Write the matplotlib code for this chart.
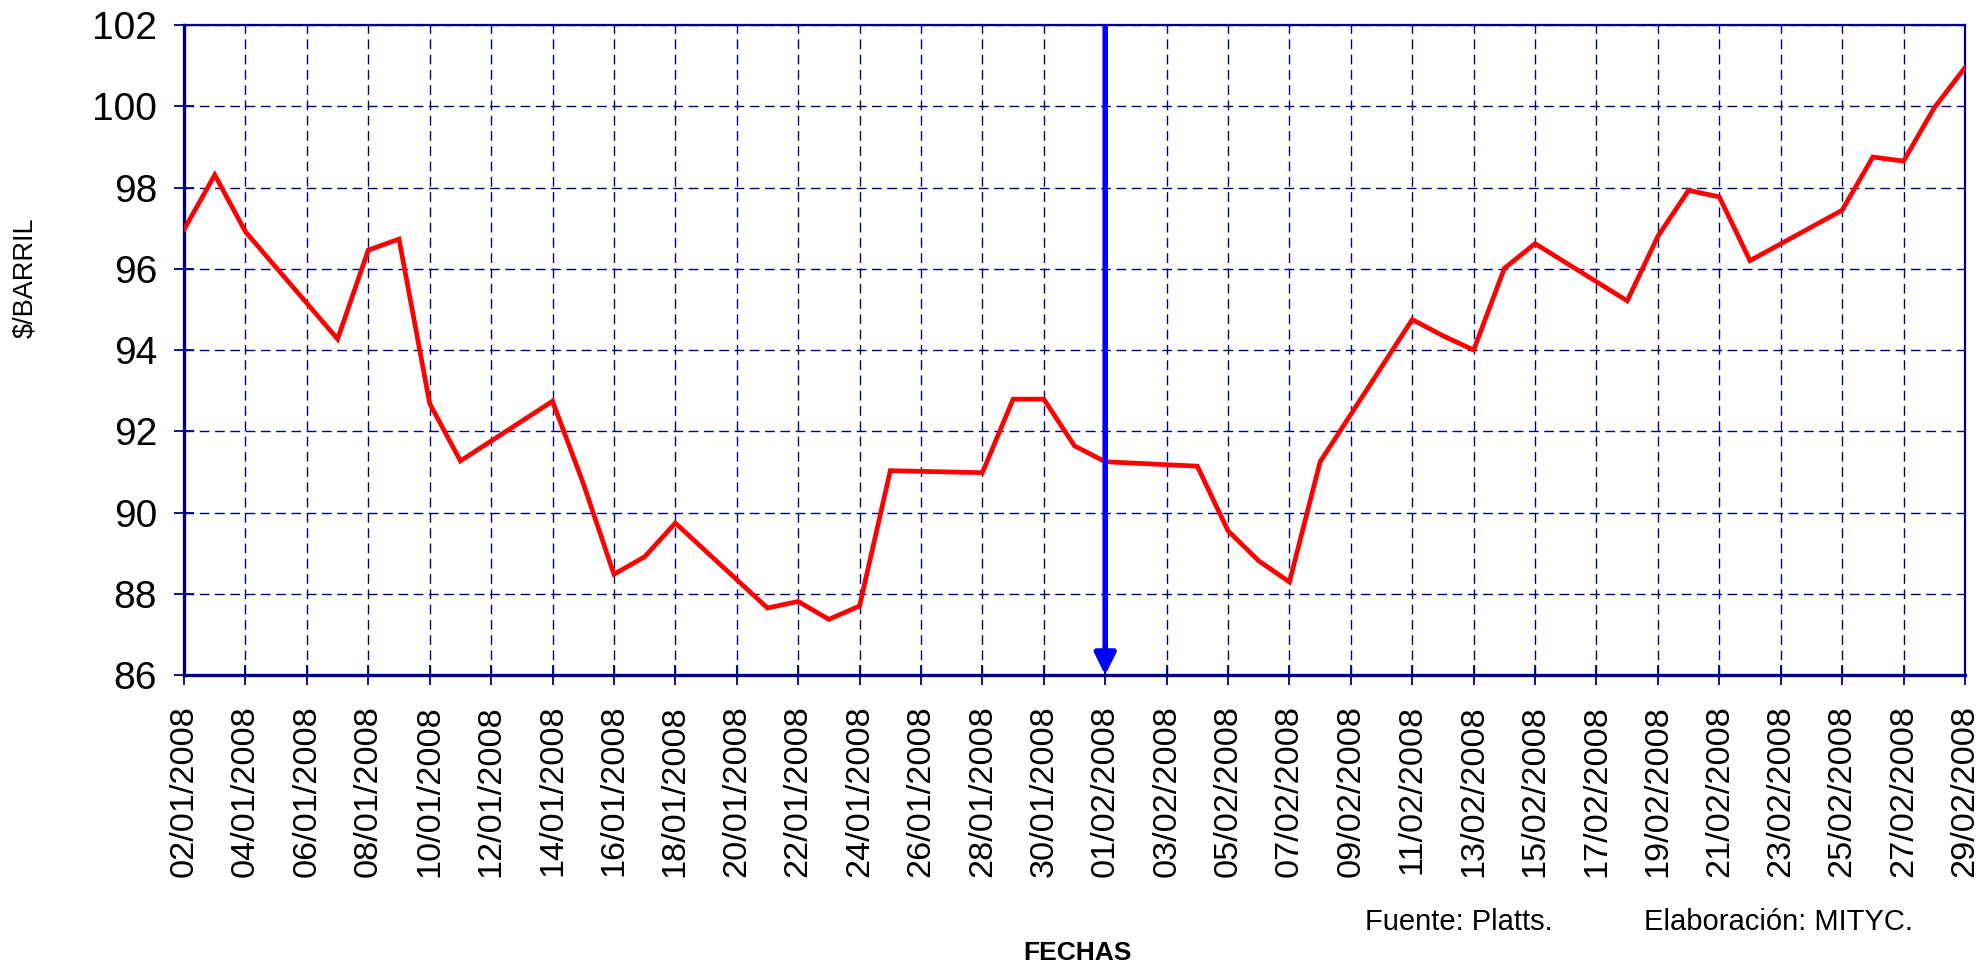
import pandas as pd
import numpy as np
import matplotlib
matplotlib.use("Agg")
import matplotlib.pyplot as plt
import matplotlib.dates as mdates

# precio diario ($/barril), enero-febrero 2008
fechas = ['02/01/2008', '03/01/2008', '04/01/2008', '07/01/2008', '08/01/2008', '09/01/2008',
          '10/01/2008', '11/01/2008', '14/01/2008', '15/01/2008', '16/01/2008', '17/01/2008',
          '18/01/2008', '21/01/2008', '22/01/2008', '23/01/2008', '24/01/2008', '25/01/2008',
          '28/01/2008', '29/01/2008', '30/01/2008', '31/01/2008',
          '01/02/2008', '04/02/2008', '05/02/2008', '06/02/2008', '07/02/2008', '08/02/2008',
          '11/02/2008', '12/02/2008', '13/02/2008', '14/02/2008', '15/02/2008', '18/02/2008',
          '19/02/2008', '20/02/2008', '21/02/2008', '22/02/2008', '25/02/2008', '26/02/2008',
          '27/02/2008', '28/02/2008', '29/02/2008']
precios = [96.97, 98.31, 96.91, 94.27, 96.46, 96.73,
           92.68, 91.27, 92.74, 90.72, 88.48, 88.91,
           89.74, 87.65, 87.81, 87.37, 87.70, 91.03,
           90.98, 92.79, 92.79, 91.64,
           91.25, 91.14, 89.55, 88.81, 88.29, 91.25,
           94.75, 94.35, 94.00, 96.01, 96.62, 95.21,
           96.80, 97.93, 97.77, 96.20, 97.44, 98.75,
           98.65, 99.96, 100.95]
fecha_flecha = '01/02/2008'  # fecha marcada con la flecha azul
y_ticks = [86, 88, 90, 92, 94, 96, 98, 100, 102]

navy = '#000080'
plt.rcParams['font.family'] = ['Liberation Sans', 'DejaVu Sans']

x = pd.to_datetime(fechas, format='%d/%m/%Y')
x_ticks = pd.date_range(x[0], x[-1], freq='2D')  # una etiqueta cada dos dias
flecha = pd.to_datetime(fecha_flecha, format='%d/%m/%Y')

fig = plt.figure(figsize=(19.88, 9.77), dpi=100)
ax = fig.add_axes([0.0926, 0.3091, 0.8958, 0.6653])

ax.plot(x, precios, color='#ff0000', lw=3.4, solid_joinstyle='miter', zorder=3)

ax.set_xlim(x[0], x[-1])
ax.set_ylim(y_ticks[0], y_ticks[-1])
ax.set_yticks(y_ticks)
ax.set_xticks(x_ticks)
ax.xaxis.set_major_formatter(mdates.DateFormatter('%d/%m/%Y'))
plt.setp(ax.get_xticklabels(), rotation=90)

ax.grid(True, color=navy, lw=1.0, linestyle=(0, (7, 4)))
ax.tick_params(axis='both', direction='inout', length=15, width=1.3, color=navy)
ax.tick_params(axis='y', labelsize=28, pad=12)
ax.tick_params(axis='x', labelsize=24.7, pad=14)

for side in ['top', 'right']:
    ax.spines[side].set_color(navy)
    ax.spines[side].set_linewidth(1.6)
for side in ['bottom', 'left']:
    ax.spines[side].set_color(navy)
    ax.spines[side].set_linewidth(2.4)

# flecha vertical
ax.annotate('', xy=(flecha, y_ticks[0]), xytext=(flecha, y_ticks[-1] - 0.05),
            arrowprops=dict(arrowstyle='-|>', color='#0000ff', lw=4,
                            mutation_scale=32, shrinkA=0, shrinkB=0), zorder=4)

fig.text(0.0126, 0.716, '$/BARRIL', rotation=90, fontsize=19.5, ha='center', va='center')
fig.text(0.542, 0.025, 'FECHAS', fontsize=19, fontweight='bold', ha='center', va='center')
fig.text(0.6866, 0.056, 'Fuente: Platts.', fontsize=21, ha='left', va='center')
fig.text(0.8270, 0.056, 'Elaboración: MITYC.', fontsize=21, ha='left', va='center')

fig.savefig('out.png', dpi=100)
